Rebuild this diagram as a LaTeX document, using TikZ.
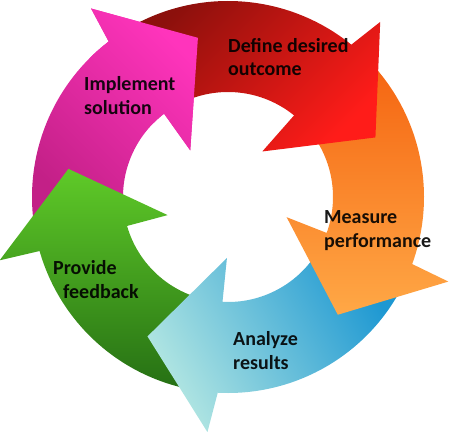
\documentclass[tikz,border=0pt]{standalone}
\usepackage{fontspec}
\setmainfont{Carlito}
\usepackage{tikz}
\definecolor{defdark}{RGB}{140,16,12}
\definecolor{deflight}{RGB}{255,28,25}
\definecolor{measdark}{RGB}{245,102,18}
\definecolor{measlight}{RGB}{255,168,70}
\definecolor{anadark}{RGB}{30,152,210}
\definecolor{analight}{RGB}{178,230,226}
\definecolor{feedlight}{RGB}{95,202,40}
\definecolor{feeddark}{RGB}{38,112,20}
\definecolor{impllight}{RGB}{255,52,188}
\definecolor{impldark}{RGB}{195,32,135}

\begin{document}
\begin{tikzpicture}[x=1pt, y=1pt,
    steplabel/.style={anchor=base west, align=left, inner sep=0pt, text=black, text opacity=0.9, font=\fontsize{20}{24}\selectfont\bfseries},
    arrowfill/.style n args={3}{top color=#1, bottom color=#2, shading angle=#3}]
        \useasboundingbox (-228,-237) rectangle (222,197);

        % Implement solution (magenta)
        \shade[arrowfill={impllight}{impldark}{-45}] (186:105) -- (186:196) arc[start angle=186, end angle=127.5, radius=196] -- (126:233) -- (100.7:162) -- (129:60) -- (127.5:105) arc[start angle=127.5, end angle=186, radius=105] -- cycle;

        % Provide feedback (green)
        \shade[arrowfill={feedlight}{feeddark}{0}] (-103:105) -- (-103:196) arc[start angle=-103, end angle=-164, radius=196] -- (-164.5:237) -- (-190:162) -- (-163.3:63) -- (-164:105) arc[start angle=-164, end angle=-103, radius=105] -- cycle;

        % Analyze results (blue)
        \shade[arrowfill={analight}{anadark}{120}] (-30:105) -- (-30:196) arc[start angle=-30, end angle=-93, radius=196] -- (-95:236) -- (-120:161) -- (-91:61) -- (-93:105) arc[start angle=-93, end angle=-30, radius=105] -- cycle;

        % Measure performance (orange)
        \shade[arrowfill={measlight}{measdark}{180}] (41:105) -- (41:196) arc[start angle=41, end angle=-20, radius=196] -- (-21:236) -- (-47:161) -- (-19:62) -- (-20:105) arc[start angle=-20, end angle=41, radius=105] -- cycle;

        % Define desired outcome (red)
        \shade[arrowfill={deflight}{defdark}{-135}] (117:105) -- (117:196) arc[start angle=117, end angle=51, radius=196] -- (49:232) -- (22:159) -- (53:57) -- (51:105) arc[start angle=51, end angle=117, radius=105] -- cycle;

        % magenta head again, on top of the red tail
        \begin{scope}
            \clip (0,0) -- (95:250) arc[start angle=95, end angle=135, radius=250] -- cycle;
            \shade[arrowfill={impllight}{impldark}{-45}] (186:105) -- (186:196) arc[start angle=186, end angle=127.5, radius=196] -- (126:233) -- (100.7:162) -- (129:60) -- (127.5:105) arc[start angle=127.5, end angle=186, radius=105] -- cycle;
        \end{scope}

        % Labels (placed at the baseline of the last line)
        \node[steplabel] (define) at (0,121) {Define desired\\outcome};
        \node[steplabel] (measure) at (96,-50) {Measure\\performance};
        \node[steplabel] (analyze) at (5,-172) {Analyze\\results};
        \node[steplabel] (feedback) at (-175,-101) {Provide\\\hspace*{10pt}feedback};
        \node[steplabel] (implement) at (-144,82) {Implement\\solution};
    \end{tikzpicture}
\end{document}
